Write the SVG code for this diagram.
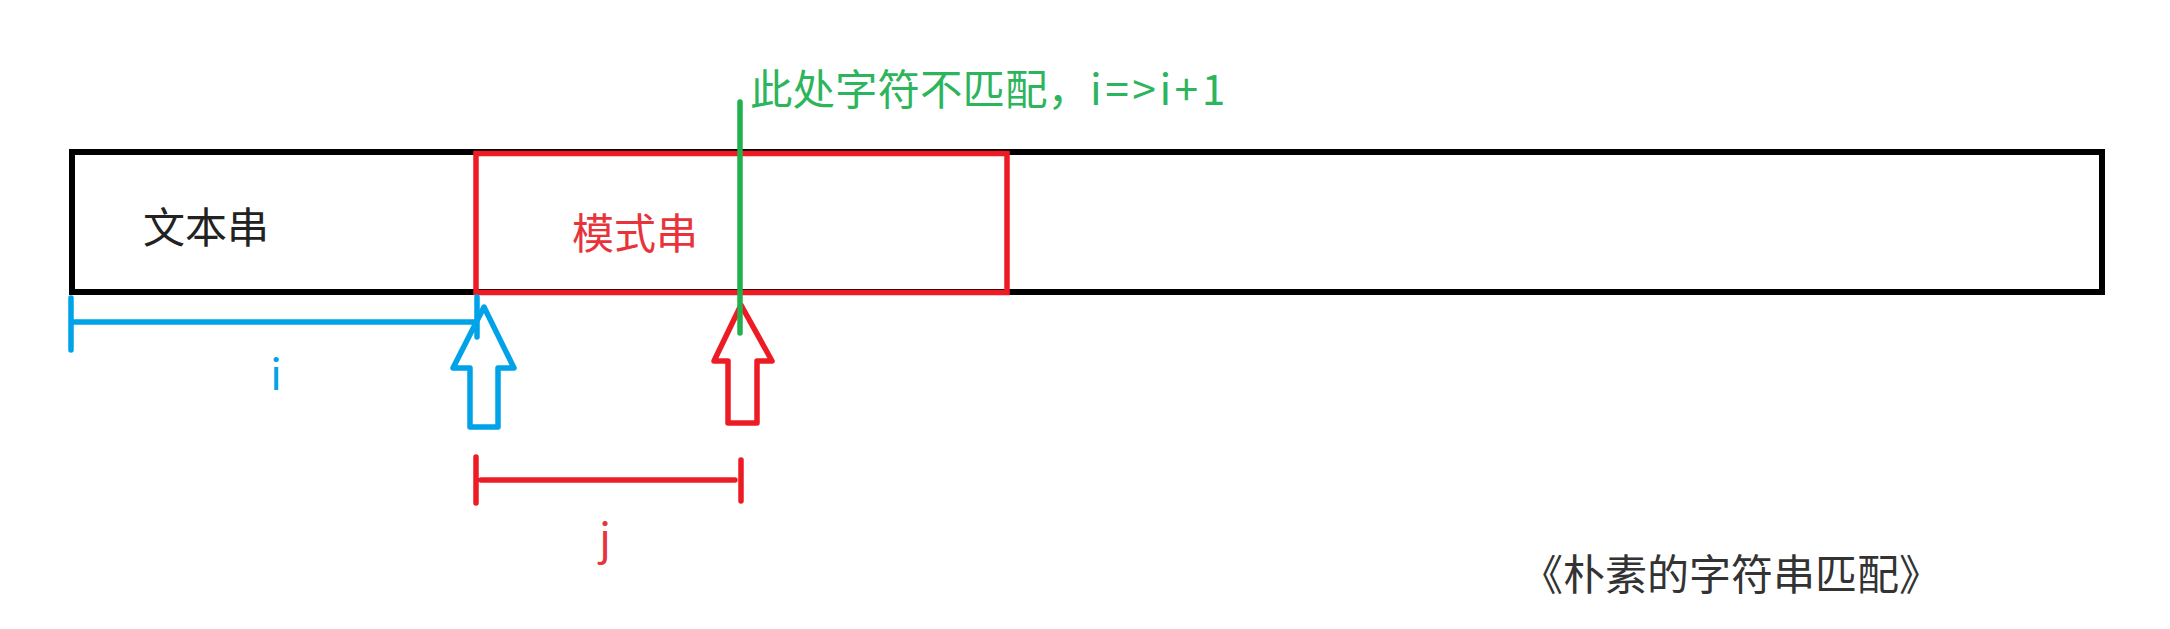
<svg xmlns="http://www.w3.org/2000/svg" width="2170" height="629" viewBox="0 0 2170 629">
<style>
text{font-family:"Noto Sans CJK SC","Noto Sans",sans-serif;font-size:42px}
.blk{fill:none;stroke:#000;stroke-width:6}
.red{fill:none;stroke:#ED1C24;stroke-width:5.5;stroke-linecap:round;stroke-linejoin:round}
.blue{fill:none;stroke:#00A2E8;stroke-width:5.5;stroke-linecap:round;stroke-linejoin:round}
.grn{fill:none;stroke:#22B14C;stroke-width:5.5;stroke-linecap:round}
</style>
<rect width="2170" height="629" fill="#fff"/>
<g id="text-string">
<rect class="blk" x="72" y="152" width="2030" height="140"/>
<text x="143" y="243" fill="#222">文本串</text>
</g>
<g id="pattern-string">
<rect class="red" x="476" y="153.5" width="531" height="139" style="stroke-linecap:butt;stroke-linejoin:miter"/>
<text x="572" y="249" fill="#E8333A">模式串</text>
</g>
<g id="connectors">
<g id="i-bracket">
<path class="blue" d="M71 298V350M71 322H477M477 297V337"/>
<text x="276" y="390" fill="#00A2E8" text-anchor="middle">i</text>
</g>
<g id="i-arrow">
<path class="blue" d="M484 307L514 368H498V427H470V368H453Z"/>
</g>
<g id="j-arrow">
<path class="red" d="M741 305L772 361H757V423H728V361H714Z"/>
</g>
<g id="j-bracket">
<path class="red" d="M476 457V503M481 480H735M741 460V501"/>
<text x="605" y="554" fill="#E8333A" text-anchor="middle">j</text>
</g>
<g id="mismatch">
<line class="grn" x1="740" y1="102" x2="740" y2="333"/>
<text x="750" y="105" fill="#2DB55D" style="font-size:42.5px">此处字符不匹配，<tspan letter-spacing="3.5">i=&gt;i+1</tspan></text>
</g>
</g>
<g id="caption">
<text x="1731" y="590" fill="#333" text-anchor="middle">《朴素的字符串匹配》</text>
</g>
</svg>
